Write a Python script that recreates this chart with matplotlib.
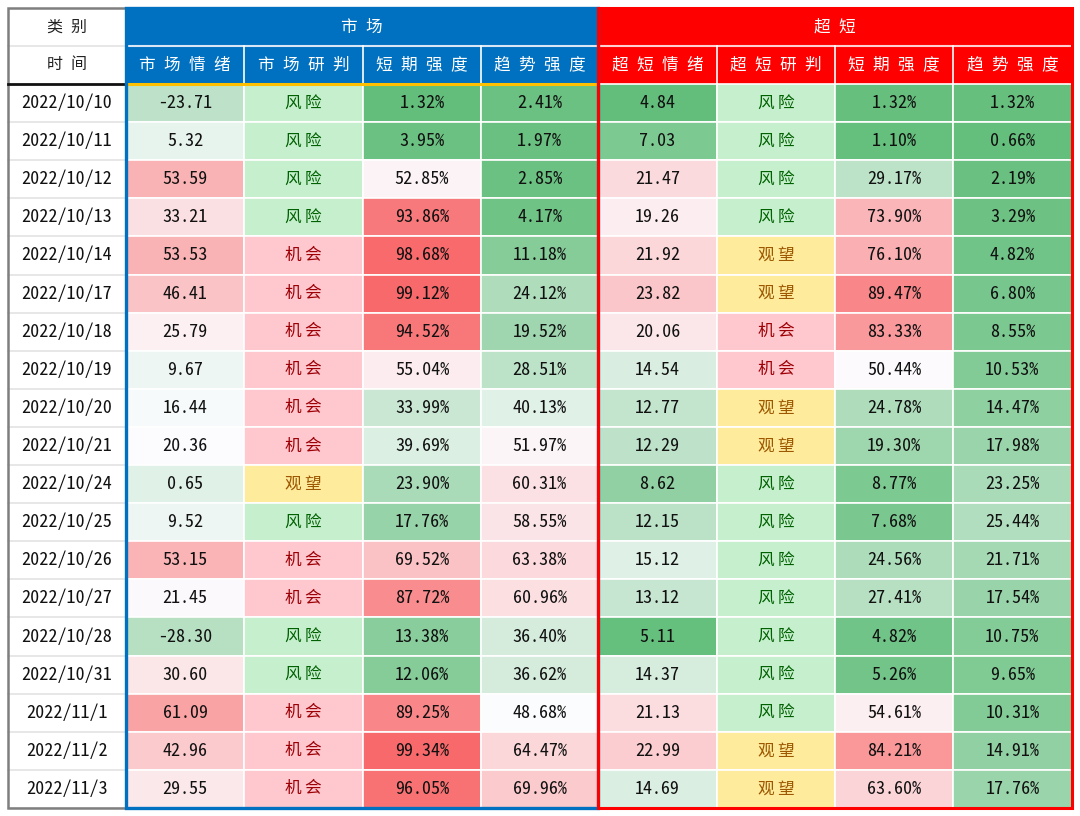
import numpy as np
import matplotlib
matplotlib.use("Agg")
import matplotlib.pyplot as plt
from matplotlib.patches import Rectangle
from matplotlib.colors import LinearSegmentedColormap, TwoSlopeNorm

plt.rcParams['font.family'] = ['Noto Sans CJK SC', 'DejaVu Sans']
NUM_FONT = ['Noto Sans Mono CJK SC', 'DejaVu Sans Mono']

# === DATA ===
dates = ['2022/10/10', '2022/10/11', '2022/10/12', '2022/10/13', '2022/10/14',
         '2022/10/17', '2022/10/18', '2022/10/19', '2022/10/20', '2022/10/21',
         '2022/10/24', '2022/10/25', '2022/10/26', '2022/10/27', '2022/10/28',
         '2022/10/31', '2022/11/1', '2022/11/2', '2022/11/3']

mkt_mood = [-23.71, 5.32, 53.59, 33.21, 53.53, 46.41, 25.79, 9.67, 16.44, 20.36,
            0.65, 9.52, 53.15, 21.45, -28.30, 30.60, 61.09, 42.96, 29.55]
mkt_judge = ['风险', '风险', '风险', '风险', '机会', '机会', '机会', '机会', '机会', '机会',
             '观望', '风险', '机会', '机会', '风险', '风险', '机会', '机会', '机会']
mkt_short = [1.32, 3.95, 52.85, 93.86, 98.68, 99.12, 94.52, 55.04, 33.99, 39.69,
             23.90, 17.76, 69.52, 87.72, 13.38, 12.06, 89.25, 99.34, 96.05]
mkt_trend = [2.41, 1.97, 2.85, 4.17, 11.18, 24.12, 19.52, 28.51, 40.13, 51.97,
             60.31, 58.55, 63.38, 60.96, 36.40, 36.62, 48.68, 64.47, 69.96]

ss_mood = [4.84, 7.03, 21.47, 19.26, 21.92, 23.82, 20.06, 14.54, 12.77, 12.29,
           8.62, 12.15, 15.12, 13.12, 5.11, 14.37, 21.13, 22.99, 14.69]
ss_judge = ['风险', '风险', '风险', '风险', '观望', '观望', '机会', '机会', '观望', '观望',
            '风险', '风险', '风险', '风险', '风险', '风险', '风险', '观望', '观望']
ss_short = [1.32, 1.10, 29.17, 73.90, 76.10, 89.47, 83.33, 50.44, 24.78, 19.30,
            8.77, 7.68, 24.56, 27.41, 4.82, 5.26, 54.61, 84.21, 63.60]
ss_trend = [1.32, 0.66, 2.19, 3.29, 4.82, 6.80, 8.55, 10.53, 14.47, 17.98,
            23.25, 25.44, 21.71, 17.54, 10.75, 9.65, 10.31, 14.91, 17.76]

group_names = ['市场', '超短']
sub_headers = ['市场情绪', '市场研判', '短期强度', '趋势强度',
               '超短情绪', '超短研判', '短期强度', '趋势强度']

# (values, kind, vmin, vcenter, vmax)
columns = [
    (mkt_mood, 'num', -87, 20, 88),
    (mkt_judge, 'cat', None, None, None),
    (mkt_short, 'pct', 1.32, 50, 99.34),
    (mkt_trend, 'pct', 0, 49, 110),
    (ss_mood, 'num', 4.84, 17.5, 35),
    (ss_judge, 'cat', None, None, None),
    (ss_short, 'pct', 0, 50, 100),
    (ss_trend, 'pct', 0, 50, 100),
]

# Excel-style judgement styles (fill, text)
judge_style = {'风险': ('#C6EFCE', '#006100'),
               '机会': ('#FFC7CE', '#9C0006'),
               '观望': ('#FFEB9C', '#9C5700')}

cmap = LinearSegmentedColormap.from_list('gwr', ['#63BE7B', '#FCFCFF', '#F8696B'])

# === LAYOUT (pixel grid) ===
col_edges = [8, 126, 244, 363, 481, 598, 717, 835, 953, 1072]
top, h1, h2, bottom = 8, 46, 84, 808
n = len(dates)
row_edges = np.linspace(h2, bottom, n + 1)

fig = plt.figure(figsize=(10.8, 8.16), dpi=100)
ax = fig.add_axes([0, 0, 1, 1])
ax.set_xlim(0, 1080)
ax.set_ylim(816, 0)
ax.axis('off')

def spaced(s, sep='\u2002'):
    return sep.join(s)

# --- date column ---
ax.text((col_edges[0] + col_edges[1]) / 2, (top + h1) / 2, spaced('类别'),
        ha='center', va='center', fontsize=11.5, color='#222222')
ax.text((col_edges[0] + col_edges[1]) / 2, (h1 + h2) / 2, spaced('时间'),
        ha='center', va='center', fontsize=11.5, color='#222222')
for i, d in enumerate(dates):
    y0, y1 = row_edges[i], row_edges[i + 1]
    ax.plot([col_edges[0], col_edges[1]], [y1, y1], color='#E3E3E3', lw=1.2)
    ax.text((col_edges[0] + col_edges[1]) / 2, (y0 + y1) / 2, d, family=NUM_FONT,
            ha='center', va='center', fontsize=13, color='#111111')
ax.plot([col_edges[0], col_edges[1]], [h1, h1], color='#E3E3E3', lw=1.2)
ax.add_patch(Rectangle((col_edges[0], top), col_edges[1] - col_edges[0], bottom - top,
                       fill=False, ec='#7F7F7F', lw=1.8, zorder=5))
ax.plot([col_edges[0], col_edges[1]], [h2, h2], color='#111111', lw=2.0, zorder=6)

# --- group headers ---
group_colors = ['#0070C0', '#FF0000']
for g in range(2):
    x0, x1 = col_edges[1 + 4 * g], col_edges[5 + 4 * g]
    ax.add_patch(Rectangle((x0, top), x1 - x0, h2 - top, fc=group_colors[g], ec='none'))
    ax.text((x0 + x1) / 2, (top + h1) / 2, spaced(group_names[g]), ha='center', va='center',
            fontsize=12, color='white')
    ax.plot([x0, x1], [h1, h1], color='#D9E6F5' if g == 0 else '#FFD0D0', lw=1.5)

for j, name in enumerate(sub_headers):
    x0, x1 = col_edges[j + 1], col_edges[j + 2]
    ax.text((x0 + x1) / 2, (h1 + h2) / 2, spaced(name), ha='center', va='center',
            fontsize=12, color='white')
    if j not in (0, 4):
        ax.plot([x0, x0], [h1, h2], color='white', lw=1.2)

# --- data cells ---
for j, (vals, kind, vmin, vc, vmax) in enumerate(columns):
    x0, x1 = col_edges[j + 1], col_edges[j + 2]
    if kind != 'cat':
        norm = TwoSlopeNorm(vcenter=vc, vmin=vmin, vmax=vmax)
    for i, v in enumerate(vals):
        y0, y1 = row_edges[i], row_edges[i + 1]
        if kind == 'cat':
            fc, tc = judge_style[v]
            ax.add_patch(Rectangle((x0, y0), x1 - x0, y1 - y0, fc=fc, ec='white', lw=1.2))
            ax.text((x0 + x1) / 2, (y0 + y1) / 2, spaced(v, '\u2009'), ha='center',
                    va='center', fontsize=12, color=tc)
        else:
            fc = cmap(norm(np.clip(v, vmin, vmax)))
            label = f'{v:.2f}%' if kind == 'pct' else f'{v:.2f}'
            ax.add_patch(Rectangle((x0, y0), x1 - x0, y1 - y0, fc=fc, ec='white', lw=1.2))
            ax.text((x0 + x1) / 2, (y0 + y1) / 2, label, family=NUM_FONT,
                    ha='center', va='center', fontsize=13, color='#111111')

# gold line under market header
ax.plot([col_edges[1], col_edges[5]], [h2, h2], color='#FFC000', lw=2.2, zorder=6)

# group outlines
ax.add_patch(Rectangle((col_edges[1], top), col_edges[5] - col_edges[1], bottom - top,
                       fill=False, ec='#0070C0', lw=2.4, zorder=7))
ax.add_patch(Rectangle((col_edges[5], top), col_edges[9] - col_edges[5], bottom - top,
                       fill=False, ec='#FF0000', lw=2.2, zorder=7))

fig.savefig('out.png', dpi=100, facecolor='white')
